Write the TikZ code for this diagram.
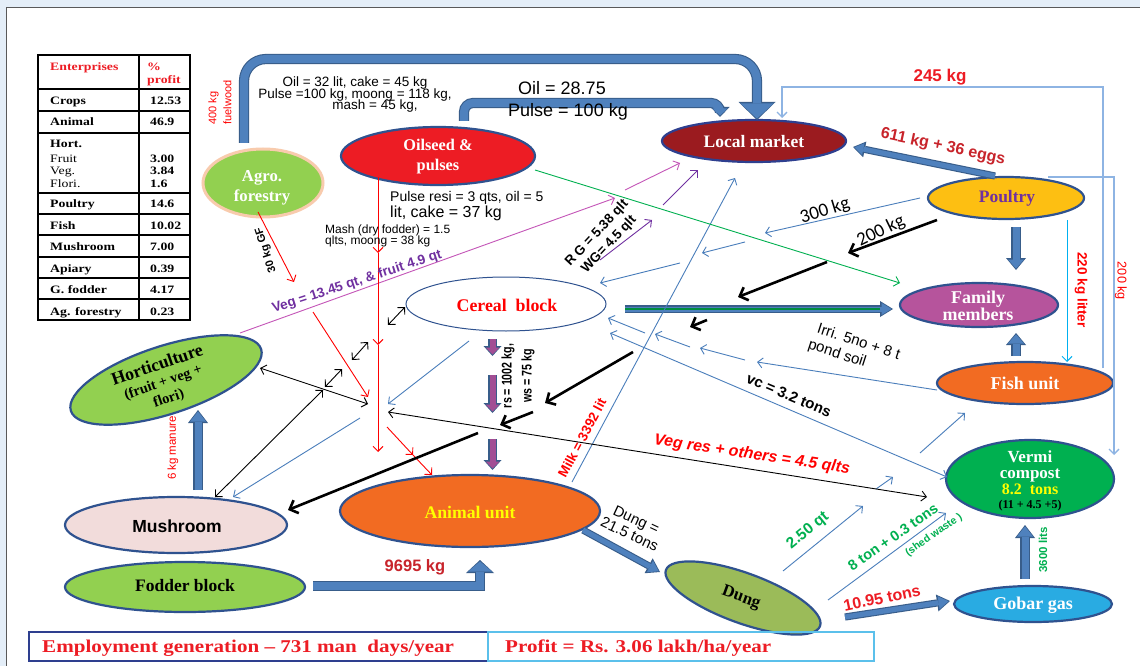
\documentclass[tikz,border=0pt]{standalone}
\usepackage{fontspec}
\setmainfont{Liberation Serif}
\setsansfont{Liberation Sans}
\newfontfamily\calib{Carlito}
\usetikzlibrary{arrows.meta,shapes.geometric}
\definecolor{pipefill}{HTML}{4F81BD}
\definecolor{pipeborder}{HTML}{385D8A}
\definecolor{tblue}{HTML}{4A7EBB}
\definecolor{lblue}{HTML}{8EB4E3}
\definecolor{cyanl}{HTML}{00B0F0}
\definecolor{nborder}{HTML}{2F528F}
\definecolor{hgreen}{HTML}{92D050}
\definecolor{peach}{HTML}{F8CBAD}
\definecolor{oilred}{HTML}{ED1C24}
\definecolor{mktred}{HTML}{9B1B1F}
\definecolor{gold}{HTML}{FDBF12}
\definecolor{famp}{HTML}{B6549C}
\definecolor{orng}{HTML}{F26B22}
\definecolor{vgreen}{HTML}{00B050}
\definecolor{gobarc}{HTML}{29ABE2}
\definecolor{olive}{HTML}{9BBB59}
\definecolor{pinkl}{HTML}{F2DCDB}
\definecolor{purp}{HTML}{7030A0}
\definecolor{magl}{HTML}{C455B8}
\definecolor{redt}{HTML}{FF0000}
\definecolor{dred}{HTML}{C8242B}
\definecolor{arrpurp}{HTML}{A24E94}
\definecolor{yell}{HTML}{FFFF00}
\definecolor{boxblue}{HTML}{2E3F8F}
\definecolor{boxlblue}{HTML}{5BC0EB}
\definecolor{bandblue}{HTML}{E4EEF8}
\newcommand\fsz[2]{\fontsize{#1}{#2}\selectfont}
\newcommand\Pipe[6][]{%
  \pgfmathsetmacro\pwo{#2+2.2}%
  \pgfmathsetmacro\pho{#3+4}%
  \pgfmathsetmacro\plo{#4+3}%
  \draw[#1, draw=pipeborder, line width=\pwo pt, -{Triangle[length=\plo pt,width=\pho pt,line width=0pt]}] #5;
  \draw[#1, draw=#6, line width=#2pt, shorten >=1.5pt, -{Triangle[length=#4pt,width=#3pt,line width=0pt]}] #5;}
\begin{document}
\begin{tikzpicture}[x=1pt,y=-1pt,
  ell/.style={ellipse, draw=nborder, line width=2.2pt, inner sep=0pt},
  txt/.style={inner sep=0pt, align=center},
  nt/.style={txt, font=\rmfamily\bfseries},
  thinb/.style={draw=tblue, line width=0.9pt, -{Straight Barb[length=5pt,width=10pt]}},
  dbl/.style={draw=black, line width=0.9pt, {Straight Barb[length=5pt,width=10pt]}-{Straight Barb[length=5pt,width=10pt]}},
  dblb/.style={draw=tblue, line width=0.9pt, {Straight Barb[length=5pt,width=10pt]}-{Straight Barb[length=5pt,width=10pt]}},
  redl/.style={draw=redt, line width=0.9pt, -{Straight Barb[length=5pt,width=10pt]}},
  blk/.style={draw=black, line width=2.6pt, -{Straight Barb[length=7pt,width=14pt]}},
  tt/.style={inner sep=0pt, anchor=base west, font=\rmfamily\bfseries\fsz{11.3}{13}, xscale=1.22},
]
\useasboundingbox (0,0) rectangle (1140,666);
\fill[white] (0,0) rectangle (1140,666);
\fill[bandblue] (0,0) rectangle (1140,7);
\fill[bandblue] (0,0) rectangle (6,666);
\draw[black!65, line width=0.8pt] (6.5,666) -- (6.5,7.5) -- (1140,7.5);

% ---------- table ----------
\draw[line width=1.2pt] (38,55) rectangle (190,320);
\draw[line width=1.2pt] (139,55) -- (139,320);
\foreach \yy in {89,111,133,193,214,235,257,278,299} \draw[line width=1.2pt] (38,\yy) -- (190,\yy);
\node[tt, text=oilred] (th1) at (50,71) {Enterprises};
\node[tt, text=oilred] (th2) at (147,71) {\%};
\node[tt, text=oilred] (th3) at (147,84) {profit};
\node[tt] (r1) at (50,105) {Crops};        \node[tt] (v1) at (150,105) {12.53};
\node[tt] (r2) at (50,126) {Animal};       \node[tt] (v2) at (150,126) {46.9};
\node[tt] (r3) at (50,147) {Hort.};
\node[tt, font=\rmfamily\fsz{11.3}{13}] (r3a) at (50,162) {Fruit};  \node[tt] (v3a) at (150,162) {3.00};
\node[tt, font=\rmfamily\fsz{11.3}{13}] (r3b) at (50,174) {Veg.};   \node[tt] (v3b) at (150,174) {3.84};
\node[tt, font=\rmfamily\fsz{11.3}{13}] (r3c) at (50,187) {Flori.}; \node[tt] (v3c) at (150,187) {1.6};
\node[tt] (r4) at (50,207) {Poultry};      \node[tt] (v4) at (150,207) {14.6};
\node[tt] (r5) at (50,229) {Fish};         \node[tt] (v5) at (150,229) {10.02};
\node[tt] (r6) at (50,250) {Mushroom};     \node[tt] (v6) at (150,250) {7.00};
\node[tt] (r7) at (50,272) {Apiary};       \node[tt] (v7) at (150,272) {0.39};
\node[tt] (r8) at (50,293) {G. fodder};    \node[tt] (v8) at (150,293) {4.17};
\node[tt] (r9) at (50,315) {Ag. forestry}; \node[tt] (v9) at (150,315) {0.23};

% ---------- ellipses ----------
\node[ell, fill=hgreen, draw=peach, line width=3pt, minimum width=120pt, minimum height=68pt] (agro) at (263,183) {};
\node[ell, fill=oilred, minimum width=194pt, minimum height=58pt] (oil) at (438,156) {};
\node[ell, fill=mktred, draw=boxblue, minimum width=184pt, minimum height=42pt] (market) at (754,141) {};
\node[ell, fill=gold, minimum width=156pt, minimum height=42pt] (poultry) at (1006,198) {};
\node[ell, fill=famp, minimum width=158pt, minimum height=44pt] (family) at (979,305) {};
\node[ell, fill=orng, minimum width=176pt, minimum height=42pt] (fish) at (1025,383) {};
\node[ell, fill=vgreen, minimum width=168pt, minimum height=78pt] (vermi) at (1030,479) {};
\node[ell, fill=gobarc, minimum width=158pt, minimum height=36pt] (gobar) at (1033,604) {};
\node[ell, fill=olive, rotate=-20, minimum width=164pt, minimum height=50pt] (dung) at (743,598) {};
\node[ell, fill=orng, minimum width=260pt, minimum height=72pt] (animal) at (470,511) {};
\node[ell, fill=pinkl, minimum width=222pt, minimum height=56pt] (mush) at (176,525) {};
\node[ell, fill=hgreen, minimum width=240pt, minimum height=50pt] (fodder) at (185,587) {};
\node[ell, fill=hgreen, rotate=18, minimum width=200pt, minimum height=68pt] (hort) at (166,380) {};
\node[ell, fill=white, line width=1pt, minimum width=200pt, minimum height=54pt] (cereal) at (506,304) {};

% ---------- coordinates ----------
\coordinate (pa1) at (244,143); \coordinate (pa2) at (244,59); \coordinate (pa3) at (757,59); \coordinate (pa4) at (757,120);
\coordinate (pb1) at (464,121); \coordinate (pb2) at (464,103); \coordinate (pb3) at (720,103); \coordinate (pb4) at (720,117);
\coordinate (pf1) at (313,586); \coordinate (pf2) at (480,586); \coordinate (pf3) at (480,560);
\coordinate (pm1) at (995,176); \coordinate (pm2) at (853,147);
\coordinate (pp1) at (1016,227); \coordinate (pp2) at (1016,270);
\coordinate (pq1) at (1016,356); \coordinate (pq2) at (1016,333);
\coordinate (pg1) at (1025,579); \coordinate (pg2) at (1025,525);
\coordinate (pd1) at (845,617); \coordinate (pd2) at (950,601);
\coordinate (pn1) at (583,530); \coordinate (pn2) at (660,572);
\coordinate (ph1) at (198,490); \coordinate (ph2) at (198,410);
\coordinate (pc1) at (625,309); \coordinate (pc2) at (893,309); \coordinate (pc3) at (880,309);
\coordinate (pk1) at (492.5,339); \coordinate (pk2) at (492.5,356);
\coordinate (pk3) at (492.5,375); \coordinate (pk4) at (492.5,413);
\coordinate (pk5) at (492.5,439); \coordinate (pk6) at (492.5,470);

% ---------- block arrows ----------
\Pipe[rounded corners=22pt]{8}{33}{15}{(pa1) -- (pa2) -- (pa3) -- (pa4)}{pipefill}
\Pipe[rounded corners=9pt]{8}{15}{7}{(pb1) -- (pb2) -- (pb3) -- (pb4)}{pipefill}
\Pipe{8}{24}{10}{(pf1) -- (pf2) -- (pf3)}{pipefill}
\Pipe{5}{12}{9}{(pm1) -- (pm2)}{pipefill}
\Pipe{7}{16}{9}{(pp1) -- (pp2)}{pipefill}
\Pipe{7}{16}{9}{(pq1) -- (pq2)}{pipefill}
\Pipe{7}{16}{10}{(pg1) -- (pg2)}{pipefill}
\Pipe{5}{13}{10}{(pd1) -- (pd2)}{pipefill}
\Pipe{5}{13}{10}{(pn1) -- (pn2)}{pipefill}
\Pipe{7}{16}{10}{(ph1) -- (ph2)}{pipefill}
\Pipe{5}{12}{10}{(pc1) -- (pc2)}{pipefill}
\draw[vgreen!80!black, line width=1.3pt] (pc1) -- (pc3);
\Pipe{6}{14}{7}{(pk1) -- (pk2)}{arrpurp}
\Pipe{6}{14}{7}{(pk3) -- (pk4)}{arrpurp}
\Pipe{6}{14}{7}{(pk5) -- (pk6)}{arrpurp}

% ---------- thin blue ----------
\coordinate (a1) at (920,198); \coordinate (a2) at (765,233);
\coordinate (a3) at (745,242); \coordinate (a4) at (702,253);
\coordinate (a5) at (680,263); \coordinate (a6) at (600,283);
\draw[thinb] (a1) -- (a2); \draw[thinb] (a3) -- (a4); \draw[thinb] (a5) -- (a6);
\coordinate (b1) at (937,390); \coordinate (b2) at (757,362);
\coordinate (b3) at (745,360); \coordinate (b4) at (700,348);
\coordinate (b5) at (690,347); \coordinate (b6) at (655,334);
\coordinate (b7) at (645,333); \coordinate (b8) at (608,318);
\draw[thinb] (b1) -- (b2); \draw[thinb] (b3) -- (b4); \draw[thinb] (b5) -- (b6); \draw[thinb] (b7) -- (b8);
\coordinate (c1) at (610,333); \coordinate (c2) at (947,477);
\draw[dblb] (c1) -- (c2);
\coordinate (d1) at (469,341); \coordinate (d2) at (388,404);
\draw[thinb] (d1) -- (d2);
\coordinate (e1) at (360,418); \coordinate (e2) at (233,497);
\draw[thinb] (e1) -- (e2);
\coordinate (m1) at (572,482); \coordinate (m2) at (735,178);
\draw[thinb] (m1) -- (m2);
\coordinate (f1) at (783,571); \coordinate (f2) at (863,506);
\coordinate (f3) at (876,489); \coordinate (f4) at (893,477);
\coordinate (f5) at (920,453); \coordinate (f6) at (965,413);
\draw[thinb] (f1) -- (f2); \draw[thinb] (f3) -- (f4); \draw[thinb] (f5) -- (f6);
\coordinate (g1) at (828,600); \coordinate (g2) at (946,513);
\draw[thinb] (g1) -- (g2);

% ---------- right side loops ----------
\coordinate (h1) at (1103,368); \coordinate (h2) at (1103,87); \coordinate (h3) at (782,87); \coordinate (h4) at (782,118);
\draw[draw=lblue, line width=1.3pt, -{Straight Barb[length=5pt,width=10pt]}] (h1) -- (h2) -- (h3) -- (h4);
\coordinate (i1) at (1048,177); \coordinate (i2) at (1114,177); \coordinate (i3) at (1114,455);
\draw[draw=lblue, line width=1.3pt, -{Straight Barb[length=5pt,width=10pt]}] (i1) -- (i2) -- (i3);
\coordinate (j1) at (1067,220); \coordinate (j2) at (1067,362);
\draw[draw=cyanl, line width=1pt, -{Straight Barb[length=5pt,width=10pt]}] (j1) -- (j2);

% ---------- green, magenta, purple ----------
\coordinate (k1) at (535,170); \coordinate (k2) at (900,283);
\draw[draw=vgreen, line width=0.9pt, -{Straight Barb[length=5pt,width=10pt]}] (k1) -- (k2);
\coordinate (l1) at (240,333); \coordinate (l2) at (615,198);
\coordinate (l3) at (625,190); \coordinate (l4) at (680,163);
\draw[draw=magl, line width=0.9pt, -{Straight Barb[length=5pt,width=10pt]}] (l1) -- (l2);
\draw[draw=magl, line width=0.9pt, -{Straight Barb[length=5pt,width=10pt]}] (l3) -- (l4);
\coordinate (n1) at (600,260); \coordinate (n2) at (652,220);
\coordinate (n3) at (663,205); \coordinate (n4) at (698,170);
\draw[draw=purp, line width=0.9pt, -{Straight Barb[length=5pt,width=10pt]}] (n1) -- (n2);
\draw[draw=purp, line width=0.9pt, -{Straight Barb[length=5pt,width=10pt]}] (n3) -- (n4);

% ---------- red ----------
\coordinate (q1) at (258,212); \coordinate (q2) at (294,282);
\draw[redl] (q1) -- (q2);
\coordinate (q3) at (378,177); \coordinate (q4) at (378,253); \coordinate (q5) at (378,345); \coordinate (q6) at (378,452);
\draw[redl] (q3) -- (q4); \draw[redl] (q4) -- (q5); \draw[redl] (q5) -- (q6);
\coordinate (q7) at (313,312); \coordinate (q8) at (368,397);
\draw[redl] (q7) -- (q8);
\coordinate (q9) at (387,427); \coordinate (q10) at (413,455); \coordinate (q11) at (432,475);
\draw[redl] (q9) -- (q10); \draw[redl] (q10) -- (q11);

% ---------- black double ----------
\coordinate (s1) at (260,368); \coordinate (s2) at (368,404);
\draw[dbl] (s1) -- (s2);
\coordinate (s3) at (215,497); \coordinate (s4) at (323,390);
\draw[dbl] (s3) -- (s4);
\coordinate (s5) at (325,387); \coordinate (s6) at (342,369);
\draw[dbl] (s5) -- (s6);
\coordinate (s7) at (352,360); \coordinate (s8) at (368,342);
\draw[dbl] (s7) -- (s8);
\coordinate (s9) at (388,325); \coordinate (s10) at (405,307);
\draw[dbl] (s9) -- (s10);
\coordinate (s11) at (388,412); \coordinate (s12) at (927,497);
\draw[dbl] (s11) -- (s12);

% ---------- black thick ----------
\coordinate (t1) at (937,220); \coordinate (t2) at (848,253);
\coordinate (t3) at (827,262); \coordinate (t4) at (738,297);
\coordinate (t5) at (707,320); \coordinate (t6) at (690,327);
\coordinate (t7) at (633,352); \coordinate (t8) at (545,403);
\coordinate (t9) at (533,412); \coordinate (t10) at (500,425);
\coordinate (t11) at (478,433); \coordinate (t12) at (288,510);
\draw[blk] (t1) -- (t2); \draw[blk] (t3) -- (t4); \draw[blk] (t5) -- (t6);
\draw[blk] (t7) -- (t8); \draw[blk] (t9) -- (t10); \draw[blk] (t11) -- (t12);

% ---------- node texts ----------
\node[nt, text=white, font=\rmfamily\bfseries\fsz{16.7}{20}] (agro-t) at (262,188) {Agro.\\forestry};
\node[nt, text=white, font=\rmfamily\bfseries\fsz{16.3}{20}] (oil-t) at (438,157) {Oilseed \&\\pulses};
\node[nt, text=white, font=\rmfamily\bfseries\fsz{17.5}{20}] (market-t) at (754,142) {Local market};
\node[nt, text=purp, font=\rmfamily\bfseries\fsz{17.5}{20}] (poultry-t) at (1007,198) {Poultry};
\node[nt, text=white, font=\rmfamily\bfseries\fsz{18}{16}] (family-t) at (978,306) {Family\\members};
\node[nt, text=white, font=\rmfamily\bfseries\fsz{18}{20}] (fish-t) at (1025,383) {Fish unit};
\node[nt, anchor=base, text=white, font=\rmfamily\bfseries\fsz{17}{17}] (vt1) at (1030,462.5) {Vermi};
\node[nt, anchor=base, text=white, font=\rmfamily\bfseries\fsz{17}{17}] (vt2) at (1030,478) {compost};
\node[nt, anchor=base, text=yell, font=\rmfamily\bfseries\fsz{16}{16}] (vt3) at (1030,494.5) {8.2\ \ tons};
\node[nt, anchor=base, text=black, font=\rmfamily\bfseries\fsz{12}{12}] (vt4) at (1030,508) {(11 + 4.5 +5)};
\node[nt, text=white, font=\rmfamily\bfseries\fsz{18}{20}] (gobar-t) at (1033,605) {Gobar gas};
\node[nt, text=black, rotate=-20, font=\rmfamily\bfseries\fsz{17}{20}] (dung-t) at (741,598) {Dung};
\node[nt, text=yell, font=\rmfamily\bfseries\fsz{17.7}{20}] (animal-t) at (470,512) {Animal unit};
\node[txt, text=black, font=\sffamily\bfseries\fsz{17.5}{20}] (mush-t) at (177,526) {Mushroom};
\node[nt, text=black, font=\rmfamily\bfseries\fsz{17.5}{20}] (fodder-t) at (185,586) {Fodder block};
\node[nt, text=black, rotate=19, font=\rmfamily\bfseries\fsz{17.8}{17}] (hort-t) at (163,382) {Horticulture\\{\fsz{14.5}{17}(fruit + veg +}\\{\fsz{14.5}{17}flori)}};
\node[nt, text=redt, font=\rmfamily\bfseries\fsz{17.8}{20}] (cereal-t) at (507,305) {Cereal\ \ block};

% ---------- labels ----------
\node[txt, anchor=base, font=\sffamily\fsz{13.5}{12}] (lb1) at (355,86.5) {Oil = 32 lit, cake = 45 kg};
\node[txt, anchor=base, font=\sffamily\fsz{13.5}{12}] (lb2) at (355,99) {Pulse =100 kg, moong = 118 kg,};
\node[txt, anchor=base, font=\sffamily\fsz{13.5}{12}] (lb3) at (375,110) {mash = 45 kg,};
\node[txt, anchor=base, font=\sffamily\fsz{18}{20}] (lb4) at (562,95) {Oil = 28.75};
\node[txt, anchor=base, font=\sffamily\fsz{18}{20}] (lb5) at (568,117) {Pulse = 100 kg};
\node[txt, anchor=base west, font=\sffamily\fsz{14}{16}] (lb6) at (390,201) {Pulse resi = 3 qts, oil = 5};
\node[txt, anchor=base west, font=\sffamily\fsz{16}{18}] (lb7) at (390,217) {lit, cake = 37 kg};
\node[txt, anchor=base west, font=\sffamily\fsz{12}{12}] (lb8) at (325,233.5) {Mash (dry fodder) = 1.5};
\node[txt, anchor=base west, font=\sffamily\fsz{12}{12}] (lb9) at (325,244.5) {qlts, moong = 38 kg};
\node[txt, align=left, rotate=90, text=redt, font=\sffamily\fsz{11}{15}] (lb10) at (220,102.5) {400 kg\\fuelwood};
\node[txt, rotate=108, font=\sffamily\bfseries\fsz{11}{12}] (lb11) at (266,250) {30 kg GF};
\node[txt, rotate=18, text=purp, font=\sffamily\bfseries\fsz{13.6}{15}] (lb12) at (357,282) {Veg = 13.45 qt, \& fruit 4.9 qt};
\node[txt, rotate=47, font=\sffamily\bfseries\fsz{13.4}{16.5}] (lb13) at (603,239) {R G = 5.38 qlt\\WG= 4.5 qlt};
\node[txt, rotate=90, xscale=0.76, font=\sffamily\bfseries\fsz{14}{20}] (lb14) at (518,376) {rs = 1002 kg,\\ws = 75 kg};
\node[txt, rotate=62, text=redt, font=\sffamily\bfseries\fsz{13.5}{15}] (lb15) at (582,438) {Milk = 3392 lit};
\node[txt, rotate=-23, font=\sffamily\bfseries\fsz{15}{15}] (lb16) at (789,395) {vc = 3.2 tons};
\node[txt, rotate=-8.5, text=redt, font=\sffamily\bfseries\itshape\fsz{16}{16}] (lb17) at (752,455) {Veg res + others = 4.5 qlts};
\node[txt, rotate=-18, font=\sffamily\fsz{15}{15}] (lb18) at (859,341) {Irri. 5no + 8 t};
\node[txt, rotate=-18, font=\sffamily\fsz{15}{15}] (lb19) at (837,354) {pond soil};
\node[txt, rotate=17, font=\calib\fsz{19}{19}] (lb20) at (825,211) {300 kg};
\node[txt, rotate=26, font=\calib\fsz{19}{19}] (lb21) at (881,231) {200 kg};
\node[txt, rotate=-12, text=dred, font=\sffamily\bfseries\fsz{16}{16}] (lb22) at (943,147) {611 kg + 36 eggs};
\node[txt, anchor=base, text=oilred, font=\sffamily\bfseries\fsz{17}{17}] (lb23) at (940,81.7) {245 kg};
\node[txt, anchor=base, text=dred, font=\sffamily\bfseries\fsz{16.5}{17}] (lb24) at (415,571.7) {9695 kg};
\node[txt, rotate=-25, font=\sffamily\fsz{15}{16}] (lb25) at (633,527) {Dung =\\21.5 tons};
\node[txt, rotate=39, text=vgreen, font=\sffamily\bfseries\fsz{15.5}{16}] (lb26) at (808,531) {2.50 qt};
\node[txt, rotate=35, text=vgreen, font=\sffamily\bfseries\fsz{14.5}{16}] (lb27) at (893,537) {8 ton + 0.3 tons};
\node[txt, rotate=35, text=vgreen, font=\sffamily\bfseries\fsz{10.5}{12}] (lb28) at (934,535) {(shed waste )};
\node[txt, rotate=12, text=oilred, font=\sffamily\bfseries\fsz{16}{16}] (lb29) at (882,598) {10.95 tons};
\node[txt, rotate=90, text=vgreen, font=\sffamily\bfseries\fsz{11.5}{12}] (lb30) at (1043,550) {3600 lits};
\node[txt, rotate=-90, text=redt, font=\sffamily\bfseries\fsz{13.5}{14}] (lb31) at (1081,290) {220 kg litter};
\node[txt, rotate=-90, text=redt, font=\sffamily\fsz{12.7}{14}] (lb32) at (1121,281) {200 kg};
\node[txt, rotate=90, text=redt, font=\sffamily\fsz{11.5}{12}] (lb33) at (173,448) {6 kg manure};

% ---------- bottom boxes ----------
\draw[draw=boxblue, line width=1.4pt] (29,632) rectangle (488,661);
\draw[draw=boxlblue, line width=1.4pt] (488,632) rectangle (874,661);
\node[txt, anchor=base west, text=oilred, xscale=1.17, font=\rmfamily\bfseries\fsz{18}{20}] (emp) at (42,652) {Employment generation – 731 man\ \ days/year};
\node[txt, anchor=base west, text=oilred, xscale=1.17, font=\rmfamily\bfseries\fsz{18}{20}] (prof) at (505,652) {Profit = Rs. 3.06 lakh/ha/year};
\end{tikzpicture}
\end{document}
